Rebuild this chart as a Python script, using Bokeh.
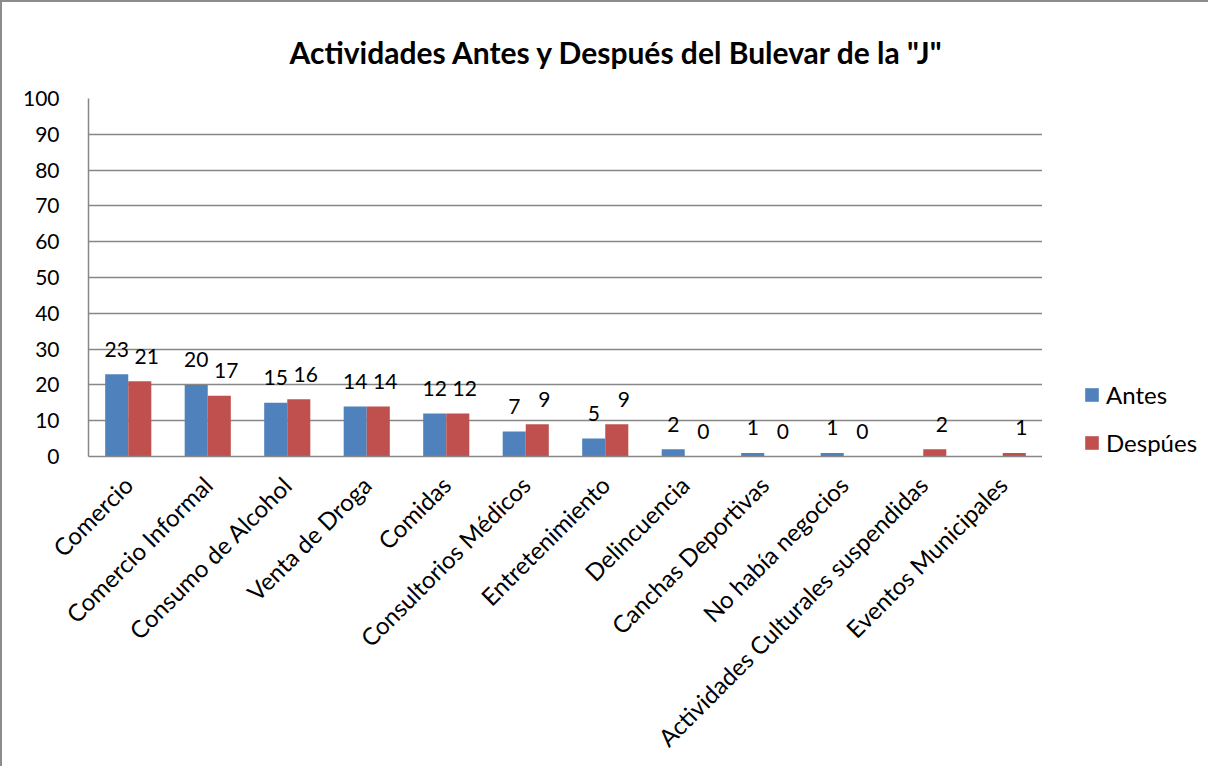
import math
from bokeh.plotting import figure
from bokeh.layouts import row
from bokeh.models import ColumnDataSource, FactorRange, Legend, LegendItem, Title, SingleIntervalTicker
from bokeh.transform import dodge
from bokeh.core.properties import value
from bokeh.embed import file_html
from bokeh.resources import INLINE

categories = ["Comercio", "Comercio Informal", "Consumo de Alcohol", "Venta de Droga",
              "Comidas", "Consultorios Médicos", "Entretenimiento", "Delincuencia",
              "Canchas Deportivas", "No había negocios", "Actividades Culturales suspendidas",
              "Eventos Municipales"]
antes = [23, 20, 15, 14, 12, 7, 5, 2, 1, 1, None, None]
despues = [21, 17, 16, 14, 12, 9, 9, 0, 0, 0, 2, 1]
series_names = ["Antes", "Despúes"]
title_text = 'Actividades Antes y Después del Bulevar de la "J"'

FONT = "Lato"
C_ANTES = "#4F81BD"
C_DESP = "#C0504D"
GRID = "#878787"

x_range = FactorRange(*categories)
x_range.range_padding = 0

p = figure(width=1040, height=764, x_range=x_range, y_range=(0, 100),
           output_backend="svg", toolbar_location=None,
           min_border_left=86, min_border_right=0, min_border_top=96, min_border_bottom=310)

p.title = Title(text=title_text, align="left", offset=201, standoff=58,
                text_font=FONT, text_font_style="bold", text_font_size="30px",
                text_color="black")

def src(vals):
    cats = [c for c, v in zip(categories, vals) if v is not None]
    vs = [v for v in vals if v is not None]
    return ColumnDataSource(dict(cat=cats, val=vs, lab=[str(v) for v in vs]))

s_a = src(antes)
s_d = src(despues)

p.vbar(x=dodge("cat", -0.145, range=x_range), top="val", width=0.29, source=s_a,
       fill_color=C_ANTES, line_color=None)
p.vbar(x=dodge("cat", 0.145, range=x_range), top="val", width=0.29, source=s_d,
       fill_color=C_DESP, line_color=None)

for s, off, xo in ((s_a, -0.145, 0), (s_d, 0.145, 7)):
    p.text(x=dodge("cat", off, range=x_range), y="val", text="lab", source=s,
           text_font=value(FONT), text_font_size="21px", text_color="black",
           text_align="center", text_baseline="middle", y_offset=-25, x_offset=xo)

p.xgrid.grid_line_color = None
p.ygrid.grid_line_color = GRID
p.ygrid.grid_line_width = 1.5
p.outline_line_color = None
p.background_fill_color = "white"
p.border_fill_color = "white"

p.yaxis.ticker = SingleIntervalTicker(interval=10)
p.yaxis.axis_line_color = GRID
p.yaxis.axis_line_width = 1.5
p.yaxis.major_tick_line_color = None
p.yaxis.minor_tick_line_color = None
p.yaxis.major_tick_out = 0
p.yaxis.major_tick_in = 0
p.yaxis.major_label_text_font = FONT
p.yaxis.major_label_text_font_size = "21px"
p.yaxis.major_label_text_color = "black"
p.yaxis.major_label_standoff = 25

p.xaxis.axis_line_color = GRID
p.xaxis.axis_line_width = 1.5
p.xaxis.major_tick_line_color = None
p.xaxis.minor_tick_line_color = None
p.xaxis.major_tick_out = 0
p.xaxis.major_tick_in = 0
p.xaxis.major_label_orientation = math.pi / 4
p.xaxis.major_label_text_font = FONT
p.xaxis.major_label_text_font_size = "24px"
p.xaxis.major_label_text_color = "black"
p.xaxis.major_label_standoff = 24

# legend panel: its swatch renderers sit far outside its own ranges, only the legend shows
p2 = figure(width=166, height=764, x_range=(-1000, -999), y_range=(-1000, -999),
            output_backend="svg", toolbar_location=None, min_border=0)
p2.axis.visible = False
p2.grid.grid_line_color = None
p2.outline_line_color = None
p2.border_fill_color = "white"
p2.background_fill_color = "white"
g_a = p2.vbar(x="val", top="val", bottom="val", width=0.29,
              source=s_a, fill_color=C_ANTES, line_color=None)
g_d = p2.vbar(x="val", top="val", bottom="val", width=0.29,
              source=s_d, fill_color=C_DESP, line_color=None)
legend = Legend(items=[LegendItem(label=series_names[0], renderers=[g_a]),
                       LegendItem(label=series_names[1], renderers=[g_d])],
                location=(41, -1), orientation="vertical",
                glyph_width=17, glyph_height=17, label_height=20, spacing=19,
                label_standoff=6, padding=0, margin=0,
                border_line_color=None, background_fill_alpha=0,
                label_text_font=FONT, label_text_font_size="24px", label_text_color="black")
p2.add_layout(legend)

layout = row(p, p2, spacing=0)
layout.styles = {"border-left": "2px solid #8c8c8c", "border-top": "2px solid #8c8c8c"}

open("out.html", "w").write(file_html(layout, INLINE))
